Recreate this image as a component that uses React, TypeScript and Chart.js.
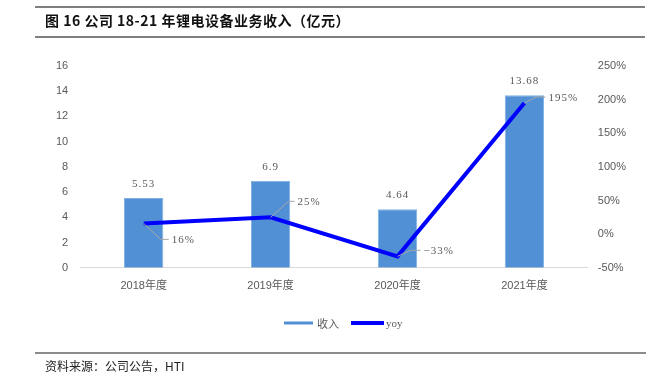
import React, { useEffect, useRef } from "react";
import { Chart, registerables } from "chart.js";

Chart.register(...registerables);

const categories = ["2018年度", "2019年度", "2020年度", "2021年度"];
const revenue = [5.53, 6.9, 4.64, 13.68];
const yoy = [16, 25, -33, 195];
const revenueLabels = ["5.53", "6.9", "4.64", "13.68"];
const yoyLabels = ["16%", "25%", "−33%", "195%"];
const titleText = "图 16 公司 18-21 年锂电设备业务收入（亿元）";
const sourceText = "资料来源：公司公告，HTI";

// leader line offsets for yoy labels: [dx1, dy1, dx2]
const leaderOffsets = [
  [17, 16, 8],
  [18, -16, 6],
  [13, -6, 10],
  [12, -6, 9],
];

const decorPlugin = {
  id: "decor",
  afterDraw(chart: any) {
    const ctx = chart.ctx;
    ctx.save();
    // rules
    ctx.strokeStyle = "#7f7f7f";
    ctx.lineWidth = 2;
    ctx.beginPath();
    ctx.moveTo(35, 7);
    ctx.lineTo(645, 7);
    ctx.moveTo(35, 37);
    ctx.lineTo(645, 37);
    ctx.stroke();
    ctx.strokeStyle = "#8c8c8c";
    ctx.beginPath();
    ctx.moveTo(35, 353);
    ctx.lineTo(646, 353);
    ctx.stroke();

    // title
    ctx.fillStyle = "#111";
    ctx.font = "bold 14px 'Noto Sans CJK SC'";
    (ctx as any).letterSpacing = "0.5px";
    ctx.textBaseline = "middle";
    ctx.textAlign = "left";
    ctx.fillText(titleText, 45, 21);
    (ctx as any).letterSpacing = "0px";

    // source
    ctx.font = "12px 'Noto Sans CJK SC'";
    ctx.fillStyle = "#222";
    ctx.fillText(sourceText, 45, 366);

    // bar labels
    const barMeta = chart.getDatasetMeta(0);
    ctx.font = "11px 'Liberation Serif'";
    (ctx as any).letterSpacing = "1px";
    ctx.fillStyle = "#595959";
    ctx.textAlign = "center";
    barMeta.data.forEach((el: any, i: number) => {
      ctx.fillText(revenueLabels[i], el.x, el.y - 14);
    });

    // line labels with leaders
    const lineMeta = chart.getDatasetMeta(1);
    ctx.textAlign = "left";
    lineMeta.data.forEach((el: any, i: number) => {
      const [dx1, dy1, dx2] = leaderOffsets[i];
      const x1 = el.x + dx1;
      const y1 = el.y + dy1;
      ctx.strokeStyle = "#a6a6a6";
      ctx.lineWidth = 1;
      ctx.beginPath();
      ctx.moveTo(el.x, el.y);
      ctx.lineTo(x1, y1);
      ctx.lineTo(x1 + dx2, y1);
      ctx.stroke();
      ctx.fillStyle = "#595959";
      ctx.fillText(yoyLabels[i], x1 + dx2 + 3, y1 + 1);
    });

    // legend
    (ctx as any).letterSpacing = "0px";
    const ds = chart.data.datasets;
    ctx.lineWidth = 3;
    ctx.strokeStyle = ds[0].backgroundColor;
    ctx.beginPath();
    ctx.moveTo(284, 323);
    ctx.lineTo(313, 323);
    ctx.stroke();
    ctx.lineWidth = 4;
    ctx.strokeStyle = ds[1].borderColor;
    ctx.beginPath();
    ctx.moveTo(351, 323);
    ctx.lineTo(384, 323);
    ctx.stroke();
    ctx.fillStyle = "#595959";
    ctx.font = "11px 'Noto Sans CJK SC'";
    ctx.fillText(ds[0].label, 317, 324);
    ctx.font = "11px 'Liberation Serif'";
    ctx.fillText(ds[1].label, 386, 324);
    ctx.restore();
  },
};

export default function App() {
  const ref = useRef<HTMLCanvasElement>(null);
  useEffect(() => {
    if (!ref.current) return;
    const chart = new Chart(ref.current, {
      type: "bar",
      data: {
        labels: categories,
        datasets: [
          {
            type: "bar",
            label: "收入",
            data: revenue,
            yAxisID: "y",
            backgroundColor: "#5190D5",
            borderColor: "#7FAFE3",
            borderWidth: 1,
            categoryPercentage: 1,
            barPercentage: 0.31,
            order: 2,
          },
          {
            type: "line",
            label: "yoy",
            data: yoy,
            yAxisID: "y1",
            borderColor: "#0000FF",
            backgroundColor: "#0000FF",
            borderWidth: 4,
            pointRadius: 0,
            tension: 0,
            order: 1,
          },
        ] as any,
      },
      options: {
        animation: false,
        responsive: false,
        maintainAspectRatio: false,
        layout: { padding: { top: 66, bottom: 76, left: 44, right: 23 } },
        plugins: { legend: { display: false }, tooltip: { enabled: false } },
        scales: {
          x: {
            grid: { display: false, drawTicks: false },
            border: { color: "#d9d9d9", width: 1 },
            ticks: { font: { size: 11, family: "'Liberation Sans', 'Noto Sans CJK SC'" }, color: "#595959", padding: 12 },
          },
          y: {
            position: "left",
            min: 0,
            max: 16,
            grid: { display: false, drawTicks: false },
            border: { display: false },
            ticks: { stepSize: 2, font: { size: 11, family: "'Liberation Sans'" }, color: "#595959", padding: 12 },
          },
          y1: {
            position: "right",
            min: -50,
            max: 250,
            grid: { display: false, drawTicks: false },
            border: { display: false },
            ticks: {
              stepSize: 50,
              font: { size: 11, family: "'Liberation Sans'" },
              color: "#595959",
              padding: 10,
              callback: (v: any) => v + "%",
            },
          },
        },
      } as any,
      plugins: [decorPlugin],
    });
    return () => chart.destroy();
  }, []);
  return (
    <div style={{ position: "fixed", left: 0, top: 0, width: 659, height: 381, background: "#fff" }}>
      <canvas ref={ref} width={659} height={381} style={{ width: 659, height: 381 }} />
    </div>
  );
}
